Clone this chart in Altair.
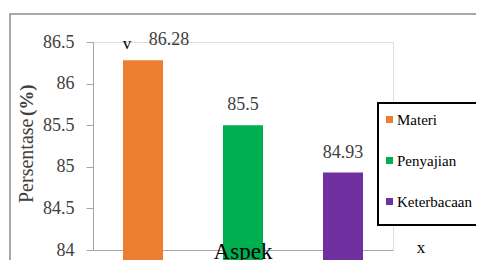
import altair as alt
import pandas as pd

categories = ["Materi", "Penyajian", "Keterbacaan"]
values = [86.28, 85.5, 84.93]
colors = ["#ED7D31", "#00B050", "#7030A0"]
y_ticks = [84, 84.5, 85, 85.5, 86, 86.5]

df = pd.DataFrame({"Aspek": categories, "Persentase": values})
FONT = "Times New Roman, Liberation Serif, serif"

x_enc = alt.X("Aspek:N", sort=categories, title=None,
              scale=alt.Scale(paddingInner=0.6, paddingOuter=0.3),
              axis=alt.Axis(labels=False, ticks=False, domainColor="#A6A6A6",
                            domainWidth=1.2))
y_enc = alt.Y("Persentase:Q", title=None,
              scale=alt.Scale(domain=[84, 86.5], zero=False, nice=False),
              axis=alt.Axis(values=y_ticks, grid=False, tickSize=7, format="~g",
                            tickColor="#A6A6A6", domainColor="#A6A6A6",
                            labelFont=FONT, labelFontSize=18, labelColor="#404040",
                            labelPadding=12))

base = alt.Chart(df)

bars = base.mark_bar(size=40).encode(
    x=x_enc, y=y_enc,
    color=alt.Color("Aspek:N", sort=categories,
                    scale=alt.Scale(domain=categories, range=colors),
                    legend=alt.Legend(title=None, orient="none", legendX=280, legendY=61,
                                      symbolType="square", symbolSize=49,
                                      labelFont=FONT, labelFontSize=15, labelColor="#000000",
                                      rowPadding=25, padding=9,
                                      symbolStrokeWidth=0, labelOffset=0)),
)

labels_first = base.transform_filter(alt.datum.Aspek == "Materi").mark_text(
    font=FONT, fontSize=18, dy=-20, dx=26, color="#404040"
).encode(x=alt.X("Aspek:N", sort=categories), y="Persentase:Q", text=alt.Text("Persentase:Q"))

labels_rest = base.transform_filter(alt.datum.Aspek != "Materi").mark_text(
    font=FONT, fontSize=18, dy=-20, color="#404040"
).encode(x=alt.X("Aspek:N", sort=categories), y="Persentase:Q", text=alt.Text("Persentase:Q"))

frame = alt.Chart(pd.DataFrame({"a": [0]})).mark_rect(
    fill=None, stroke="#8C8C8C", strokeWidth=1.5
).encode(x=alt.value(-83), x2=alt.value(500), y=alt.value(-28), y2=alt.value(300))

legend_box = alt.Chart(pd.DataFrame({"a": [0]})).mark_rect(
    fill="white", stroke="#000000", strokeWidth=2
).encode(x=alt.value(285), x2=alt.value(500), y=alt.value(61), y2=alt.value(183))

def txt(s, x, y, size, **kw):
    return alt.Chart(pd.DataFrame({"t": [s]})).mark_text(
        font=FONT, fontSize=size, **kw
    ).encode(x=alt.value(x), y=alt.value(y), text="t:N")

ytitle1 = txt("Persentase", -66, 161, 20, angle=270, align="left", baseline="middle", color="#404040")
ytitle2 = txt("(%)", -66, 74, 19, angle=270, align="left", baseline="middle", color="#404040", fontWeight="bold")
xtitle = txt("Aspek", 150, 199, 23, align="center", baseline="top", color="#000000")
xmark = txt("x", 328, 206, 17, align="center", baseline="middle", color="#000000")
vmark = txt("v", 34, 2, 17, align="center", baseline="middle", color="#000000")

chart = alt.layer(frame, bars, legend_box, labels_first, labels_rest, ytitle1, ytitle2, xtitle, xmark, vmark).properties(
    width=300, height=208,
    autosize=alt.AutoSizeParams(type="none"),
    padding={"left": 85, "top": 34, "right": 83, "bottom": 10},
).configure_view(stroke=None).configure(background="white", font=FONT)

chart.save("out.html", embed_options={"renderer": "svg", "actions": False})
